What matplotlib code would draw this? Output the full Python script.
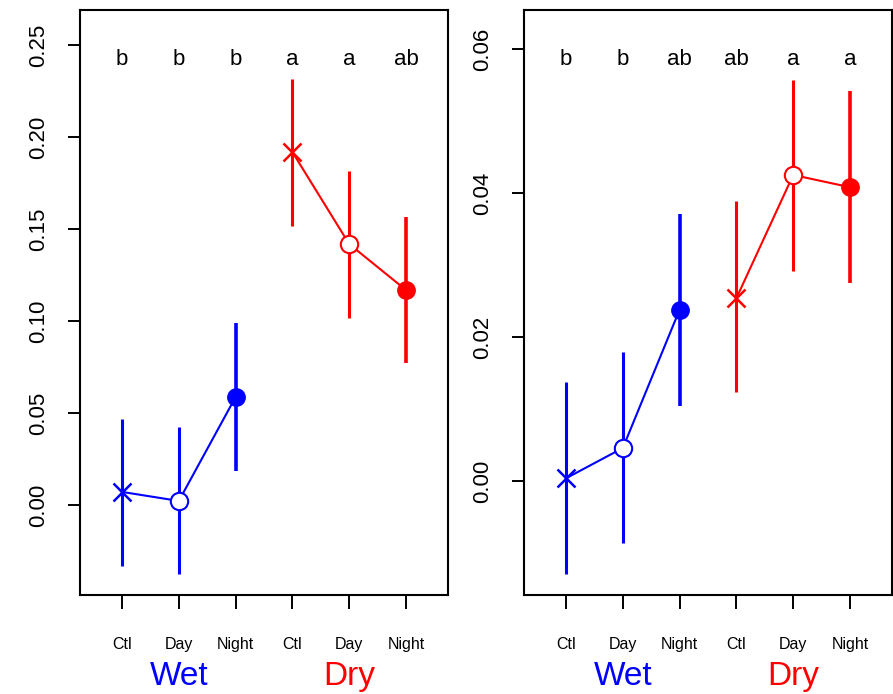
import matplotlib.pyplot as plt
import numpy as np

plt.rcParams['font.family'] = ['Liberation Sans', 'DejaVu Sans']

treatments = ['Ctl', 'Day', 'Night', 'Ctl', 'Day', 'Night']
groups = ['Wet', 'Dry']
group_colors = ['#0000FF', '#FF0000']

# left panel
left_mean = [0.0071, 0.0022, 0.0587, 0.1918, 0.1418, 0.1168]
left_low = [-0.0332, -0.0375, 0.0185, 0.1516, 0.1016, 0.0772]
left_high = [0.0467, 0.0424, 0.0989, 0.2315, 0.1815, 0.1565]
left_letters = ['b', 'b', 'b', 'a', 'a', 'ab']
left_ticks = [0.00, 0.05, 0.10, 0.15, 0.20, 0.25]

# right panel
right_mean = [0.0004, 0.0046, 0.0238, 0.0254, 0.0425, 0.0408]
right_low = [-0.0129, -0.0086, 0.0104, 0.0124, 0.0292, 0.0275]
right_high = [0.0138, 0.0179, 0.0371, 0.0389, 0.0557, 0.0542]
right_letters = ['b', 'b', 'ab', 'ab', 'a', 'a']
right_ticks = [0.00, 0.02, 0.04, 0.06]


def draw_panel(ax, mean, low, high, letters, yticks, ylim):
    x = np.arange(1, 7)
    for g in range(2):
        idx = slice(3 * g, 3 * g + 3)
        col = group_colors[g]
        xs = x[idx]
        ax.plot(xs, mean[idx], color=col, lw=1.5, zorder=2)
        for i, xi in enumerate(xs):
            k = 3 * g + i
            ax.plot([xi, xi], [low[k], high[k]], color=col,
                    lw=2.2 if i < 2 else 2.6, solid_capstyle='butt', zorder=1)
        ax.plot(xs[0], mean[3 * g], marker='x', ms=13, mew=1.8,
                color=col, ls='none', zorder=3)
        ax.plot(xs[1], mean[3 * g + 1], marker='o', ms=12.5, mew=1.5,
                mfc='white', mec=col, ls='none', zorder=3)
        ax.plot(xs[2], mean[3 * g + 2], marker='o', ms=12.5,
                color=col, ls='none', zorder=3)
        ax.text(2 + 3 * g, -0.14, groups[g], color=col, fontsize=24,
                ha='center', va='center',
                transform=ax.get_xaxis_transform(), clip_on=False)
    for xi, lab in zip(x, letters):
        ax.text(xi, 0.915, lab, fontsize=16, ha='center', va='center',
                transform=ax.get_xaxis_transform())

    ax.set_xlim(0.26, 6.74)
    ax.set_ylim(*ylim)
    ax.set_xticks(x)
    ax.set_xticklabels(treatments, fontsize=11.5)
    ax.set_yticks(yticks)
    ax.set_yticklabels([f'{v:.2f}' for v in yticks], fontsize=16,
                       rotation=90, va='center')
    ax.tick_params(axis='y', length=9, width=1.4, pad=13)
    ax.tick_params(axis='x', length=10, width=1.4, pad=20)
    for s in ax.spines.values():
        s.set_linewidth(1.5)


fig = plt.figure(figsize=(8.93, 6.94), dpi=100)
ax1 = fig.add_axes([0.0896, 0.1427, 0.4121, 0.8429])
ax2 = fig.add_axes([0.5868, 0.1427, 0.4121, 0.8429])

draw_panel(ax1, left_mean, left_low, left_high, left_letters,
           left_ticks, (-0.0489, 0.269))
draw_panel(ax2, right_mean, right_low, right_high, right_letters,
           right_ticks, (-0.0158, 0.0654))

fig.savefig('out.png', dpi=100)
